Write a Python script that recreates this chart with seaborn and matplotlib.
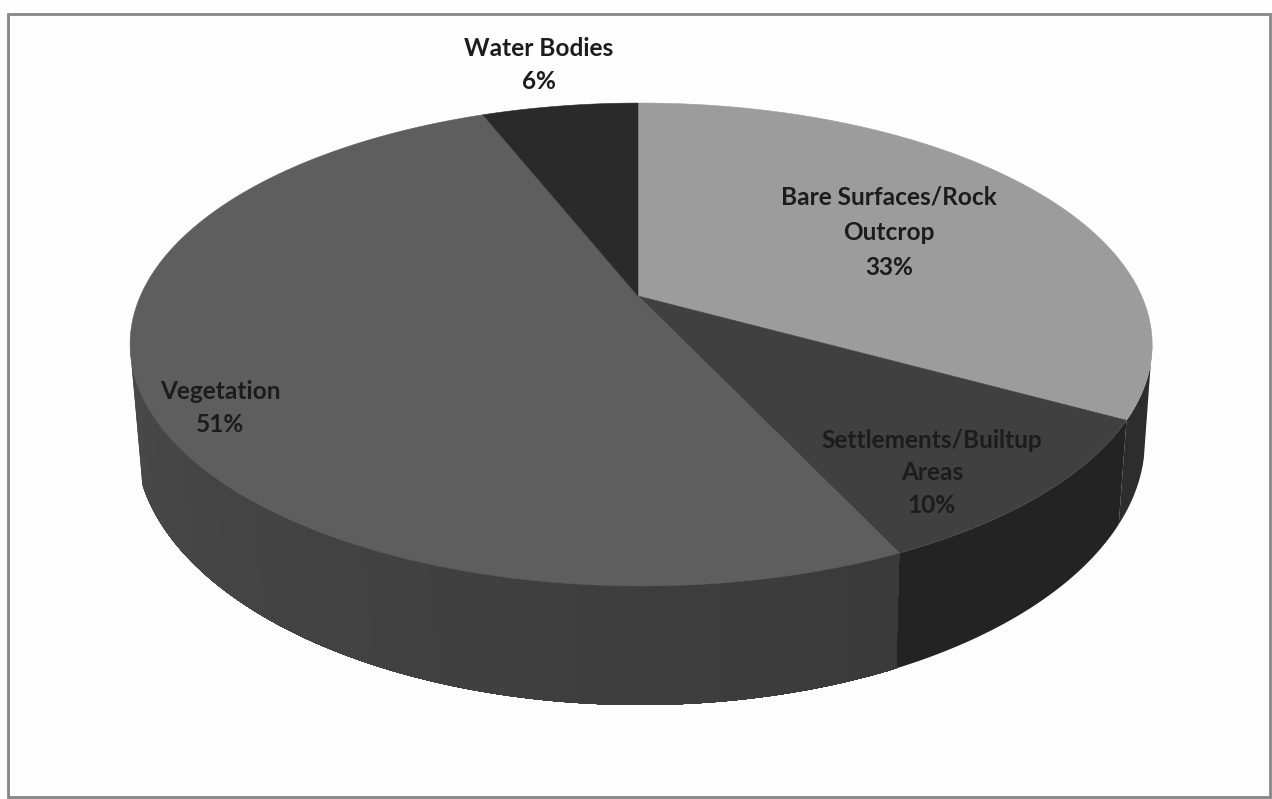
import numpy as np
import pandas as pd
import matplotlib
matplotlib.use("Agg")
import matplotlib.pyplot as plt
from matplotlib.patches import Rectangle
import seaborn as sns

# Land cover shares, listed clockwise from twelve o'clock
categories = ["Bare Surfaces/Rock\nOutcrop", "Settlements/Builtup\nAreas", "Vegetation", "Water Bodies"]
shares = [33, 10, 51, 6]
top_colors = ["#9c9c9c", "#404040", "#5e5e5e", "#2a2a2a"]
wall_colors = ["#2d2d2d", "#232323", "#3a3a3a", "#2a2a2a"]
wall_far_color = "#494949"
label_centers = [(889, 232), (932, 473), (220, 408), (539, 65)]
label_spacing = [1.65, 1.5, 1.5, 1.5]

df = pd.DataFrame({"category": categories, "share": shares,
                   "top": top_colors, "wall": wall_colors})

sns.set_style("white")
plt.rcParams["font.family"] = ["Lato", "DejaVu Sans"]

fig, ax = plt.subplots(figsize=(12.72, 7.99), dpi=100, facecolor="#fdfdfd")
ax.set_position([0, 0, 1, 1])
ax.set_xlim(0, 1272)
ax.set_ylim(799, 0)
ax.axis("off")

# Perspective view of the disc: hub position, scale and tilt
HUB_X, HUB_Y = 638.0, 296.0
SCALE_X, SCALE_Y, TILT, SKEW = 500.6, 231.7, 0.2008, 0.006
# Rim of the lower face of the disc
LOW_X, LOW_Y, LOW_A, LOW_B, LOW_SHRINK = 640.0, 440.0, 505.0, 265.0, 0.98


def top_rim(turn):
    """Project a clockwise angle from twelve o'clock onto the top face."""
    across, down = np.sin(turn), -np.cos(turn)
    w = 1 - TILT * down - SKEW * across
    return HUB_X + SCALE_X * across / w, HUB_Y + SCALE_Y * down / w


def low_rim(turn):
    x, _ = top_rim(turn)
    lx = LOW_X + (x - HUB_X) * LOW_SHRINK
    ly = LOW_Y + LOW_B * np.sqrt(np.clip(1 - ((lx - LOW_X) / LOW_A) ** 2, 0, 1))
    return lx, ly


def wall_piece(a, b, color):
    t = np.linspace(a, b, 120)
    tx, ty = top_rim(t)
    lx, ly = low_rim(t)
    ax.fill(np.r_[tx, lx[::-1]], np.r_[ty, ly[::-1]],
            facecolor=color, edgecolor="none", zorder=2)


# The wall shows only on the near side of the widest part of the rim
near_start = np.pi - np.arccos(TILT)
near_end = np.pi + np.arccos(TILT)
edges = np.radians(np.r_[0, np.cumsum(df["share"])] * 3.6)

for i, row in df.iterrows():
    a, b = max(edges[i], near_start), min(edges[i + 1], near_end)
    if a < b:
        if row["category"] == "Vegetation":
            # Vegetation wall lightens towards the far left; each band is
            # painted over the remainder of the wall so no seams appear
            ramp = sns.blend_palette([row["wall"], wall_far_color], 60)
            steps = np.linspace(a, b, len(ramp) + 1)
            for c, s in zip(ramp[::-1], steps[:-1][::-1]):
                wall_piece(a, s + (b - a) / len(ramp), c)
        else:
            wall_piece(a, b, row["wall"])

for i, row in df.iterrows():
    t = np.linspace(edges[i], edges[i + 1], 200)
    x, y = top_rim(t)
    ax.fill(np.r_[HUB_X, x], np.r_[HUB_Y, y],
            facecolor=row["top"], edgecolor=row["top"], linewidth=0.4, zorder=3)

for name, share, (cx, cy), gap in zip(categories, shares, label_centers, label_spacing):
    ax.text(cx, cy, f"{name}\n{share}%", ha="center", va="center",
            fontsize=17.6, fontweight="bold", color="#1c1c1c",
            linespacing=gap, zorder=4)

# Chart border
ax.add_patch(Rectangle((8, 14), 1262, 783, fill=False, edgecolor="#858585",
                       linewidth=2, zorder=5))

fig.savefig("out.png", dpi=100, facecolor=fig.get_facecolor())
